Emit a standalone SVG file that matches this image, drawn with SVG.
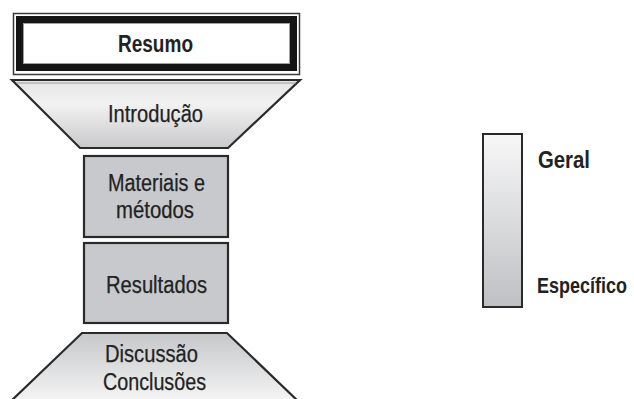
<svg xmlns="http://www.w3.org/2000/svg" width="634" height="399" viewBox="0 0 634 399">
<style>
.t{font-family:"Liberation Sans Narrow","Liberation Sans",Arial,sans-serif;font-size:23px;fill:#222222;stroke:#222222;stroke-width:0.25}
.b{font-weight:bold;stroke-width:0}
.box{fill:#c7c9cd;stroke:#2a2a2a;stroke-width:2.2}
.trap{stroke:#2a2a2a;stroke-width:2.2}
</style>
<defs>
<linearGradient id="gIntro" x1="0" y1="0" x2="0" y2="1">
<stop offset="0" stop-color="#e4e4e4"/>
<stop offset="0.35" stop-color="#f2f2f2"/>
<stop offset="1" stop-color="#c9c9cb"/>
</linearGradient>
<linearGradient id="gDisc" x1="0" y1="0" x2="0" y2="1">
<stop offset="0" stop-color="#c6c7c9"/>
<stop offset="1" stop-color="#f6f6f6"/>
</linearGradient>
<linearGradient id="gBar" x1="0" y1="0" x2="0" y2="1">
<stop offset="0" stop-color="#f7f7f8"/>
<stop offset="1" stop-color="#bfc0c3"/>
</linearGradient>
</defs>
<rect width="634" height="399" fill="#ffffff"/>

<g id="resumo">
<rect x="13.5" y="13.5" width="286" height="61" fill="#ffffff" stroke="#3a3a3a" stroke-width="1.5"/>
<rect x="19.5" y="19.5" width="274" height="48" fill="#ffffff" stroke="#151515" stroke-width="7"/>
<rect x="23.5" y="23.5" width="266" height="40" fill="none" stroke="#a0a0a0" stroke-width="1"/>
<text class="t b" x="118" y="52" textLength="75" lengthAdjust="spacingAndGlyphs">Resumo</text>
</g>

<g id="introducao">
<polygon class="trap" points="12,80 300,80 228,148 80,148" fill="url(#gIntro)"/>
<line x1="16" y1="83" x2="296" y2="83" stroke="#9a9a9a" stroke-width="1"/>
<text class="t" x="108" y="122" textLength="95" lengthAdjust="spacingAndGlyphs">Introdução</text>
</g>

<g id="materiais">
<rect class="box" x="84" y="156" width="144" height="81"/>
<text class="t" x="108" y="191" textLength="97" lengthAdjust="spacingAndGlyphs">Materiais e</text>
<text class="t" x="116" y="218" textLength="78" lengthAdjust="spacingAndGlyphs">métodos</text>
</g>

<g id="resultados">
<rect class="box" x="84" y="243" width="144" height="80"/>
<text class="t" x="106" y="293" textLength="101" lengthAdjust="spacingAndGlyphs">Resultados</text>
</g>

<g id="discussao">
<polygon class="trap" points="82,333 227,333 300,403 9,403" fill="url(#gDisc)"/>
<text class="t" x="105" y="362" textLength="93" lengthAdjust="spacingAndGlyphs">Discussão</text>
<text class="t" x="103" y="390" textLength="103" lengthAdjust="spacingAndGlyphs">Conclusões</text>
</g>

<g id="legenda">
<rect x="483" y="134" width="39" height="173" fill="url(#gBar)" stroke="#2a2a2a" stroke-width="2"/>
<text class="t b" x="538" y="168" textLength="52" lengthAdjust="spacingAndGlyphs">Geral</text>
<text class="t b" transform="translate(537,293) scale(1,1.2)" x="0" y="0" style="font-size:18px">Específico</text>
</g>

<g id="connectors"></g>
</svg>
